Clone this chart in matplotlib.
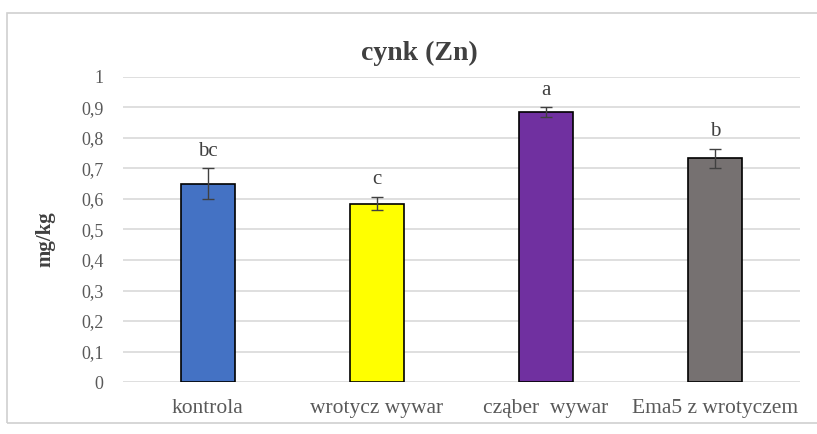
import matplotlib
matplotlib.use("Agg")
import matplotlib.pyplot as plt
from matplotlib.patches import Rectangle

categories = ["kontrola", "wrotycz wywar", "cząber  wywar", "Ema5 z wrotyczem"]
values = [0.65, 0.585, 0.885, 0.733]
errors = [0.05, 0.022, 0.015, 0.032]
letters = ["bc", "c", "a", "b"]
colors = ["#4472C4", "#FFFF00", "#7030A0", "#767171"]
yticks = [0.0, 0.1, 0.2, 0.3, 0.4, 0.5, 0.6, 0.7, 0.8, 0.9, 1.0]
yticklabels = ["0", "0,1", "0,2", "0,3", "0,4", "0,5", "0,6", "0,7", "0,8", "0,9", "1"]

plt.rcParams['font.family'] = ['Liberation Serif', 'DejaVu Serif']

fig = plt.figure(figsize=(8.17, 4.34), dpi=100)
fig.patches.append(Rectangle((0.008, 0.025), 1.2, 0.945, transform=fig.transFigure,
                             fill=False, edgecolor="#d0d0d0", linewidth=1.2))
ax = fig.add_axes([0.1506, 0.1198, 0.8284, 0.7028])

x = list(range(len(categories)))
ax.bar(x, values, width=0.32, color=colors, edgecolor="black", linewidth=1.2, zorder=3)
ax.errorbar(x, values, yerr=errors, fmt="none", ecolor="#404040", elinewidth=1,
            capsize=4, capthick=1, zorder=4)
for xi, v, e, l in zip(x, values, errors, letters):
    ax.text(xi, v + e + 0.025, l, ha="center", va="bottom", fontsize=15, color="#404040")

ax.set_xlim(-0.5, 3.5)
ax.set_ylim(0, 1)
ax.set_yticks(yticks)
ax.set_yticklabels(yticklabels)
ax.set_xticks(x)
ax.set_xticklabels(categories)
ax.tick_params(axis="both", length=0, labelcolor="#595959")
ax.tick_params(axis="y", pad=14, labelsize=13)
ax.tick_params(axis="x", pad=12, labelsize=15.5)
ax.grid(axis="y", color="#d9d9d9", linewidth=1.2, zorder=0)
for s in ax.spines.values():
    s.set_visible(False)
ax.set_ylabel("mg/kg", fontsize=15, fontweight="bold", color="#404040")
ax.yaxis.set_label_coords(-0.1, 0.47)
fig.text(0.513, 0.878, "cynk (Zn)", fontsize=20, fontweight="bold", color="#404040",
         ha="center", va="center")

fig.savefig("out.png", dpi=100)
